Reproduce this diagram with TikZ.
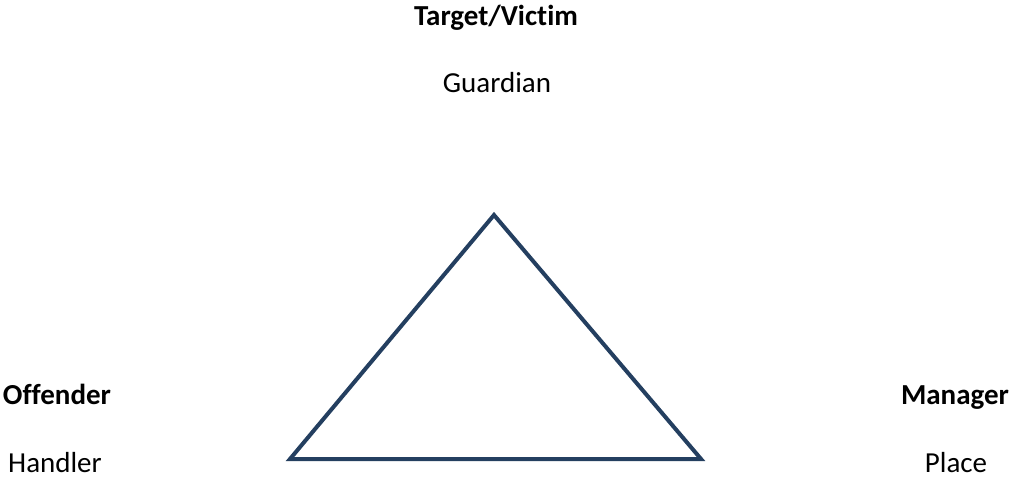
\documentclass[tikz,border=0pt]{standalone}
\usepackage{fontspec}
\setmainfont[Ligatures=NoCommon]{Carlito}
\definecolor{TriNavy}{HTML}{243F60}
\usetikzlibrary{positioning}

\begin{document}
\begin{tikzpicture}[x=1pt,y=-1pt,
    role/.style={anchor=base,inner sep=0pt,font=\fontsize{29}{35}\selectfont\bfseries},
    agent/.style={anchor=base,inner sep=0pt,font=\fontsize{29}{35}\selectfont}]
  \useasboundingbox (0,0) rectangle (1011,492);
  % vertices
  \coordinate (apex) at (494,215);
  \coordinate (left) at (290,459);
  \coordinate (right) at (701,459);
  \draw[TriNavy,line width=4pt,line join=miter] (apex) -- (left) -- (right) -- cycle;
  % labels
  \node[role] (target) at (496,26) {Target/Victim};
  \node[agent] (guardian) at (497,93) {Guardian};
  \node[role] (offender) at (57,404) {Offender};
  \node[agent] (handler) at (55,472) {Handler};
  \node[role] (manager) at (955,404) {Manager};
  \node[agent] (place) at (956,472) {Place};
\end{tikzpicture}
\end{document}
